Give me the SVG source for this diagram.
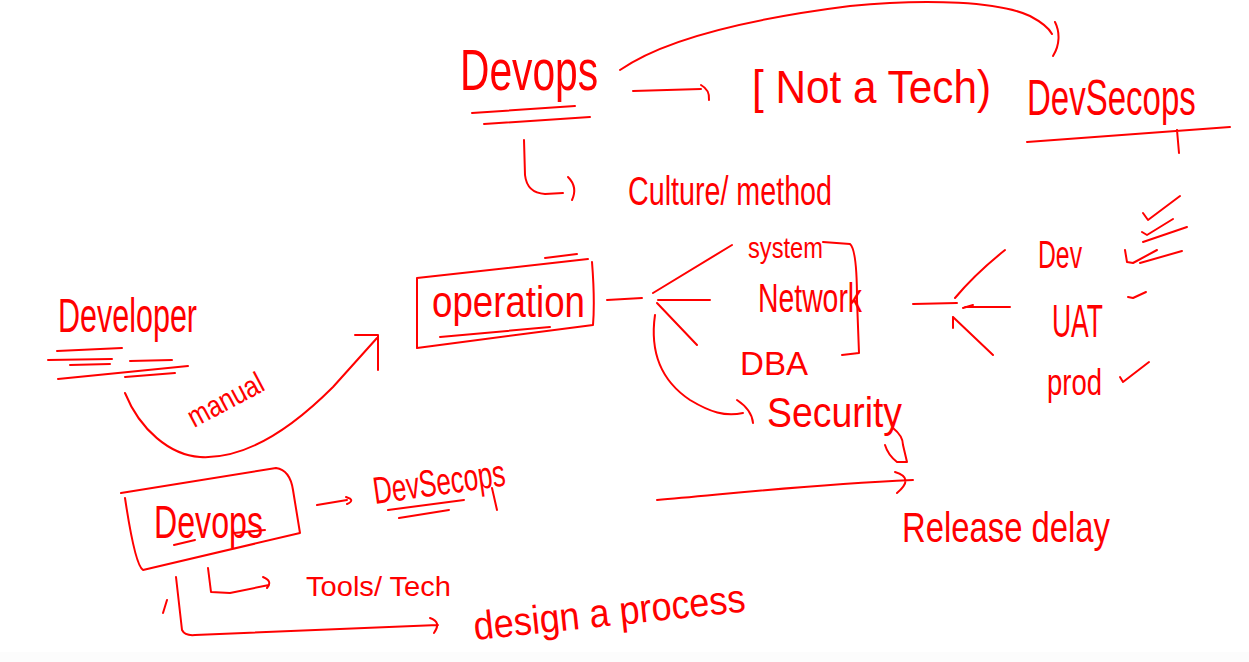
<svg xmlns="http://www.w3.org/2000/svg" width="1249" height="662" viewBox="0 0 1249 662">
<style>
.s{fill:none;stroke:#ff0000;stroke-width:2;stroke-linecap:round;stroke-linejoin:round}
.t{font-family:"Liberation Sans",Arial,sans-serif;fill:#ff0000}
</style>
<rect width="1249" height="662" fill="#ffffff"/>
<rect y="652" width="1249" height="10" fill="#fcfcfc"/>

<g id="devops-top">
<text class="t" x="460" y="90" font-size="58" textLength="138" lengthAdjust="spacingAndGlyphs">Devops</text>
<path class="s" d="M472,113 L575,106 M484,124 L590,117"/>
</g>
<g id="not-a-tech">
<text class="t" x="752" y="103" font-size="46" textLength="239" lengthAdjust="spacingAndGlyphs">[ Not a Tech)</text>
</g>
<g id="devsecops-top">
<text class="t" transform="translate(1027,115) scale(0.66,1)" x="0" y="0" font-size="50">DevSecops</text>
<path class="s" d="M1027,142 L1230,127 M1177,130 L1179,153"/>
</g>
<g id="culture">
<text class="t" x="628" y="205" font-size="40" textLength="204" lengthAdjust="spacingAndGlyphs">Culture/ method</text>
</g>
<g id="operation">
<path class="s" d="M417,278 L588,259 M592,262 Q595,300 593,325 L417,348 M417,278 L417,348 M440,337 L550,327 M545,258 L577,254"/>
<text class="t" x="432" y="317" font-size="44" textLength="153" lengthAdjust="spacingAndGlyphs">operation</text>
</g>
<g id="system"><text class="t" x="748" y="258" font-size="30" textLength="75" lengthAdjust="spacingAndGlyphs">system</text></g>
<g id="network"><text class="t" x="758" y="312" font-size="40" textLength="104" lengthAdjust="spacingAndGlyphs">Network</text></g>
<g id="dba"><text class="t" x="740" y="375" font-size="34" textLength="68" lengthAdjust="spacingAndGlyphs">DBA</text></g>
<g id="security"><text class="t" x="767" y="427" font-size="42" textLength="135" lengthAdjust="spacingAndGlyphs">Security</text></g>
<g id="dev-env">
<text class="t" x="1038" y="268" font-size="38" textLength="44" lengthAdjust="spacingAndGlyphs">Dev</text>
<path class="s" d="M1143,213 L1148,220 L1180,196 M1142,232 L1147,235 L1173,219 M1143,242 L1187,227 M1125,250 L1127,262 L1133,263 L1157,250 M1140,263 L1182,251"/>
</g>
<g id="uat-env">
<text class="t" x="1052" y="337" font-size="46" textLength="51" lengthAdjust="spacingAndGlyphs">UAT</text>
<path class="s" d="M1128,297 L1133,298 L1146,292"/>
</g>
<g id="prod-env">
<text class="t" x="1047" y="395" font-size="36" textLength="55" lengthAdjust="spacingAndGlyphs">prod</text>
<path class="s" d="M1120,377 L1123,382 L1149,362"/>
</g>
<g id="developer">
<text class="t" x="58" y="332" font-size="48" textLength="139" lengthAdjust="spacingAndGlyphs">Developer</text>
<path class="s" d="M57,351 L122,348 M48,360 L112,359 M130,361 L172,360 M70,365 L110,364 M58,379 L188,366 M125,377 L175,373"/>
</g>
<g id="devops-bottom">
<path class="s" d="M121,493 L276,468 Q290,470 293,490 L300,533 L143,570 Q135,565 125,498"/>
<text class="t" x="154" y="538" font-size="46" textLength="109" lengthAdjust="spacingAndGlyphs">Devops</text>
<path class="s" d="M174,545 L195,540 M234,533 L265,530"/>
</g>
<g id="devsecops-bottom">
<text class="t" x="375" y="504" font-size="38" textLength="133" lengthAdjust="spacingAndGlyphs" transform="rotate(-8 375 504)">DevSecops</text>
<path class="s" d="M388,510 L464,500 M399,518 L449,510 M492,488 L497,510"/>
</g>
<g id="tools-tech"><text class="t" x="306" y="596" font-size="28" textLength="145" lengthAdjust="spacingAndGlyphs">Tools/ Tech</text></g>
<g id="design-process"><text class="t" x="475" y="640" font-size="40" textLength="273" lengthAdjust="spacingAndGlyphs" transform="rotate(-6 475 640)">design a process</text></g>
<g id="release-delay"><text class="t" x="902" y="542" font-size="42" textLength="208" lengthAdjust="spacingAndGlyphs">Release delay</text></g>
<g id="manual"><text class="t" x="194" y="428" font-size="30" textLength="82" lengthAdjust="spacingAndGlyphs" transform="rotate(-28 194 428)">manual</text></g>

<g id="connectors">
<path class="s" d="M620,70 C660,42 740,20 850,6 C930,-2 1000,2 1030,16 C1045,24 1050,30 1052,34 M1055,22 C1060,32 1060,45 1053,56"/>
<path class="s" d="M633,91 L701,89 M701,85 Q710,90 709,100"/>
<path class="s" d="M524,140 L525,175 Q527,193 545,194 L563,193 M568,177 Q578,187 572,200"/>
<path class="s" d="M607,300 L642,298 M653,293 L732,245 M658,300 L710,300 M657,303 L697,345"/>
<path class="s" d="M655,315 C650,350 660,380 690,400 C710,412 725,417 743,413 M737,400 Q752,410 753,423"/>
<path class="s" d="M823,242 L850,244 Q857,250 857,300 L859,353 L842,355"/>
<path class="s" d="M893,428 Q903,436 903,445 L907,462 L897,462 Q888,455 885,445"/>
<path class="s" d="M913,304 L957,303 M955,298 C970,280 990,262 1005,250 M965,307 L1010,307 M963,308 L973,305 M953,317 L993,355 M953,317 L953,328"/>
<path class="s" d="M125,393 C140,430 170,455 200,457 C250,460 300,420 333,387 L377,338 M355,335 L378,335 L378,370"/>
<path class="s" d="M317,505 L347,500 M346,497 Q356,500 347,504"/>
<path class="s" d="M208,568 L211,592 L230,593 L269,585 M263,577 Q273,581 267,588"/>
<path class="s" d="M176,577 L182,630 Q185,636 195,635 L438,625 M430,618 Q442,622 434,633 M167,600 L163,613"/>
<path class="s" d="M657,500 C720,495 800,485 913,480 M895,472 Q915,478 897,493"/>
</g>
</svg>
